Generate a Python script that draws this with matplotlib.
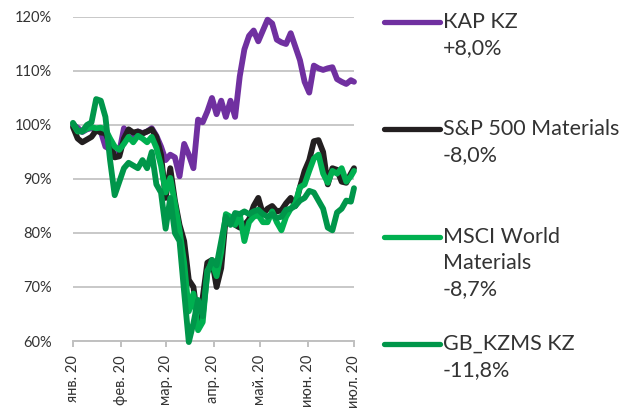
import numpy as np
import pandas as pd
import matplotlib
matplotlib.use("Agg")
import matplotlib.pyplot as plt
import matplotlib.dates as mdates
from matplotlib.lines import Line2D

plt.rcParams['font.family'] = ['Lato', 'DejaVu Sans']

# observation dates (every 3 calendar days, plus the last day)
dates = list(pd.date_range('2020-01-01', periods=61, freq='3D')) + [pd.Timestamp('2020-07-01')]

kap_kz = [100, 99.5, 98.7, 99.2, 99.4, 99.0, 98.8, 96.0, 95.5, 94.5, 95.0, 99.4, 97.5, 98.0, 98.8,
          98.5, 98.8, 99.4, 98.0, 96.0, 93.5, 94.5, 94.0, 90.5, 96.5, 94.5, 92.0, 101.0, 100.5, 102.5,
          105.0, 102.0, 104.5, 101.5, 104.5, 101.5, 109.0, 114.0, 116.5, 117.5, 115.5, 117.5, 119.5,
          118.8, 115.8, 115.3, 115.0, 117.0, 114.5, 112.0, 108.0, 106.0, 111.0, 110.5, 110.2, 110.5,
          110.7, 108.5, 108.0, 107.6, 108.3, 108.0]

sp500_mat = [99.6, 97.5, 96.8, 97.3, 97.8, 99.0, 98.6, 98.5, 96.5, 94.0, 94.2, 97.5, 99.2, 98.6, 98.8,
             98.4, 98.8, 99.2, 97.8, 94.5, 86.5, 92.0, 86.0, 81.5, 78.5, 71.3, 70.0, 63.5, 68.0, 74.5,
             75.0, 70.0, 73.5, 83.0, 82.5, 81.5, 81.0, 81.5, 82.5, 85.0, 86.5, 83.5, 84.5, 85.0, 84.0,
             84.2, 85.5, 86.5, 85.0, 88.5, 91.5, 93.5, 97.0, 97.2, 95.0, 89.0, 92.0, 91.7, 89.5, 89.3,
             91.0, 92.0]

msci_mat = [100.2, 98.8, 98.8, 99.3, 99.6, 99.4, 99.5, 99.2, 97.5, 96.0, 95.4, 96.5, 97.8, 96.8, 98.0,
            97.5, 96.8, 97.8, 95.8, 92.5, 87.5, 90.2, 85.5, 80.5, 74.5, 65.5, 68.8, 62.0, 63.5, 73.0,
            74.5, 72.0, 76.5, 83.5, 83.0, 81.5, 83.5, 78.5, 82.0, 83.0, 83.3, 82.0, 82.0, 84.0, 82.0,
            80.5, 83.0, 84.5, 85.5, 88.5, 89.0, 91.5, 93.8, 94.5, 91.0, 89.3, 91.5, 91.0, 92.0, 89.5,
            90.5, 91.5]

gb_kzms = [100.4, 99.0, 98.8, 100.0, 100.5, 104.8, 104.5, 101.5, 93.5, 87.0, 89.5, 92.0, 93.0, 92.5,
           92.0, 93.5, 92.0, 95.0, 89.0, 87.5, 80.8, 86.5, 80.0, 78.5, 69.0, 59.8, 63.3, 67.6, 64.6,
           72.5, 75.0, 74.0, 78.5, 83.0, 81.5, 83.7, 83.5, 84.0, 83.5, 84.0, 84.3, 83.5, 83.0, 83.5,
           82.8, 83.0, 84.3, 84.5, 85.0, 86.0, 86.5, 87.8, 87.5, 86.0, 84.5, 81.0, 80.5, 83.8, 84.5,
           86.0, 85.8, 88.3]

series_names = [["КАР KZ", "+8,0%"],
                ["S&P 500 Materials", "-8,0%"],
                ["MSCI World", "Materials", "-8,7%"],
                ["GB_KZMS KZ", "-11,8%"]]
series_values = [kap_kz, sp500_mat, msci_mat, gb_kzms]
colors = ["#7030A0", "#231F20", "#00B050", "#00964A"]

month_ticks = ['2020-01-01', '2020-02-01', '2020-03-01', '2020-04-01', '2020-05-01', '2020-06-01', '2020-07-01']
month_labels = ['янв. 20', 'фев. 20', 'мар. 20', 'апр. 20', 'май. 20', 'июн. 20', 'июл. 20']
y_ticks = [60, 70, 80, 90, 100, 110, 120]

W, H = 624, 411
fig = plt.figure(figsize=(W / 100, H / 100), dpi=100)
ax = fig.add_axes([73 / W, 1 - 341 / H, (354 - 73) / W, (341 - 17) / H])

for i, (vals, c) in enumerate(zip(series_values, colors)):
    ax.plot(dates, vals, color=c, lw=4.2, solid_joinstyle='round', solid_capstyle='round',
            zorder=3 + i, clip_on=False)

ax.set_xlim(pd.Timestamp('2020-01-01'), pd.Timestamp('2020-07-01'))
ax.set_ylim(60, 120)
ax.set_yticks(y_ticks)
ax.set_yticklabels([f"{v}%" for v in y_ticks])
ax.set_xticks([pd.Timestamp(t) for t in month_ticks])
ax.set_xticklabels(month_labels, rotation=90, va='top', ha='center')
ax.grid(axis='y', color='#C8C8C8', lw=1.4, zorder=0)
for s in ['left', 'right', 'top']:
    ax.spines[s].set_visible(False)
ax.spines['bottom'].set_color('#C0C0C0')
ax.spines['bottom'].set_linewidth(1.4)
ax.tick_params(axis='y', length=0, pad=15, labelsize=10.5, labelcolor='#333333')
ax.tick_params(axis='x', length=4, width=1.4, color='#C0C0C0', pad=6, labelsize=10.5, labelcolor='#333333')

# legend on the right
line_y = [22, 129, 237, 344]
for names, c, ly in zip(series_names, colors, line_y):
    fig.add_artist(Line2D([384 / W, 440 / W], [1 - ly / H, 1 - ly / H], color=c, lw=3.8,
                          solid_capstyle='round', transform=fig.transFigure))
    for k, t in enumerate(names):
        fig.text(443 / W, 1 - (ly + 26 * k) / H, t, fontsize=15.5, color='#333333',
                 va='center', ha='left')

fig.savefig('out.png', dpi=100)
